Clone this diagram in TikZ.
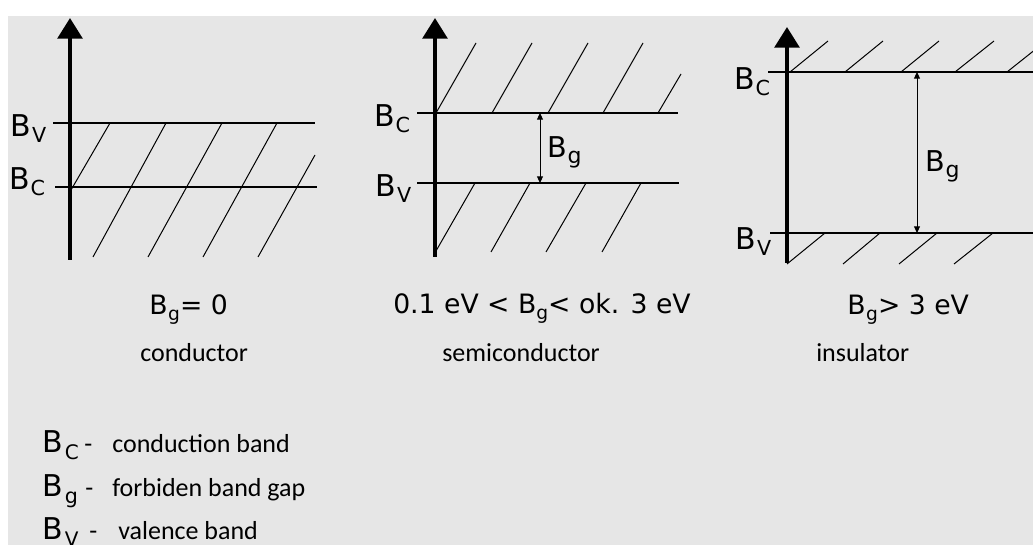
\documentclass[tikz,border=0pt]{standalone}
\usepackage{fontspec}
\setmainfont{DejaVu Sans}
\newfontfamily\calfont{Carlito}
\usetikzlibrary{arrows.meta}
\definecolor{bgc}{HTML}{E6E6E6}
% B with a lowered subscript: #1 letter, #2 size, #3 drop, #4 kern
\newcommand\Bsym[4]{B\kern#4\raisebox{-#3}{\fontsize{#2}{#2}\selectfont #1}}
\tikzset{
  axis/.style={line width=3pt,-{Triangle[width=18.5pt,length=15.5pt]}},
  band/.style={line width=1.5pt},
  hatch/.style={line width=0.75pt},
  gaparrow/.style={line width=0.75pt,{Triangle[width=4.5pt,length=5pt]}-{Triangle[width=4.5pt,length=5pt]}},
  lbl/.style={anchor=base west,inner sep=0pt,font=\fontsize{22.5pt}{24pt}\selectfont},
  gaplbl/.style={anchor=base west,inner sep=0pt,font=\fontsize{21.5pt}{24pt}\selectfont},
  formula/.style={anchor=base west,inner sep=0pt,font=\fontsize{20pt}{24pt}\selectfont},
  word/.style={anchor=base west,inner sep=0pt,font=\calfont\fontsize{19.5pt}{22pt}\selectfont},
  legsym/.style={anchor=base west,inner sep=0pt,font=\fontsize{22.5pt}{24pt}\selectfont},
}
\begin{document}
\begin{tikzpicture}[x=0.75pt,y=-0.75pt]
\useasboundingbox (0,0) rectangle (1033,545);
\fill[white] (0,0) rectangle (1033,545);
\fill[bgc] (8,16) rectangle (1033,545);
\clip (0,0) rectangle (1033,545);

% ---------- panel 1: conductor ----------
\coordinate (a1b) at (70,260); \coordinate (a1t) at (70,18);
\coordinate (v1l) at (53,123); \coordinate (v1r) at (315,123);
\coordinate (c1l) at (55,187); \coordinate (c1r) at (317,187);
\draw[hatch] (110,123) -- (71,190);
\draw[hatch] (166,123) -- (93,257);
\draw[hatch] (222,123) -- (148,257);
\draw[hatch] (277,123) -- (203,257);
\draw[hatch] (315,155) -- (258,257);
\draw[band] (v1l) -- (v1r);
\draw[band] (c1l) -- (c1r);
\draw[axis] (a1b) -- (a1t);
\node[lbl] (l1v) at (10,137) {\Bsym{V}{15.5pt}{4.5pt}{1pt}};
\node[lbl] (l1c) at (9,190) {\Bsym{C}{15.5pt}{4.5pt}{0.5pt}};

% ---------- panel 2: semiconductor ----------
\coordinate (a2b) at (435,257); \coordinate (a2t) at (435,18);
\coordinate (c2l) at (417,113); \coordinate (c2r) at (678,113);
\coordinate (v2l) at (417,183); \coordinate (v2r) at (679,183);
\coordinate (g2t) at (540,113); \coordinate (g2b) at (540,183);
\draw[hatch] (436,113) -- (476,43);
\draw[hatch] (492,113) -- (532,43);
\draw[hatch] (548,113) -- (588,43);
\draw[hatch] (603,113) -- (643,43);
\draw[hatch] (658,113) -- (681,74);
\draw[hatch] (475,183) -- (436,251);
\draw[hatch] (530,183) -- (491,252);
\draw[hatch] (586,183) -- (546,252);
\draw[hatch] (641,183) -- (602,252);
\draw[band] (c2l) -- (c2r);
\draw[band] (v2l) -- (v2r);
\draw[axis] (a2b) -- (a2t);
\draw[gaparrow] (g2t) -- (g2b);
\node[lbl] (l2c) at (374,127) {\Bsym{C}{15.5pt}{4.5pt}{0.5pt}};
\node[lbl] (l2v) at (375,197) {\Bsym{V}{15.5pt}{4.5pt}{1pt}};
\node[gaplbl] (l2g) at (547,158) {\Bsym{g}{16.5pt}{4pt}{0.5pt}};

% ---------- panel 3: insulator ----------
\coordinate (a3b) at (787,263); \coordinate (a3t) at (787,27);
\coordinate (c3l) at (768,72); \coordinate (c3r) at (1033,72);
\coordinate (v3l) at (770,233); \coordinate (v3r) at (1033,233);
\coordinate (g3t) at (917,72); \coordinate (g3b) at (917,233);
\draw[hatch] (790,72) -- (828,41);
\draw[hatch] (845,72) -- (883,41);
\draw[hatch] (901,72) -- (939,41);
\draw[hatch] (955,72) -- (994,41);
\draw[hatch] (1007,72) -- (1046,41);
\draw[hatch] (825,233) -- (787,264);
\draw[hatch] (880,233) -- (843,264);
\draw[hatch] (937,233) -- (899,264);
\draw[hatch] (993,233) -- (954,264);
\draw[band] (c3l) -- (c3r);
\draw[band] (v3l) -- (v3r);
\draw[axis] (a3b) -- (a3t);
\draw[gaparrow] (g3t) -- (g3b);
\node[lbl] (l3c) at (734,90) {\Bsym{C}{15.5pt}{4.5pt}{0.5pt}};
\node[lbl] (l3v) at (735,250) {\Bsym{V}{15.5pt}{4.5pt}{1pt}};
\node[gaplbl] (l3g) at (925,172) {\Bsym{g}{16.5pt}{4pt}{0.5pt}};

% ---------- captions ----------
\node[formula] (f1) at (149,315) {\Bsym{g}{14pt}{4.5pt}{0.5pt}= 0};
\node[formula] (f2) at (393,314) {0.1 eV < \Bsym{g}{14pt}{4.5pt}{0pt}< ok. 3 eV};
\node[formula] (f3) at (847,315) {\Bsym{g}{14pt}{4.5pt}{0.5pt}> 3 eV};
\node[word] (w1) at (140,362) {conductor};
\node[word] (w2) at (442,362) {semiconductor};
\node[word] (w3) at (816,362) {insulator};

% ---------- legend ----------
\node[legsym] (s1) at (42,453) {\Bsym{C}{15pt}{5pt}{1.5pt}};
\node[word] (d1) at (84,453) {-};
\node[word] (t1) at (112,453) {conduction band};
\node[legsym] (s2) at (42,497) {\Bsym{g}{15.5pt}{5pt}{1.5pt}};
\node[word] (d2) at (85,497) {-};
\node[word] (t2) at (112,497) {forbiden band gap};
\node[legsym] (s3) at (42,540) {\Bsym{V}{15pt}{5pt}{1.5pt}};
\node[word] (d3) at (89,540) {-};
\node[word] (t3) at (118,540) {valence band};
\end{tikzpicture}
\end{document}
